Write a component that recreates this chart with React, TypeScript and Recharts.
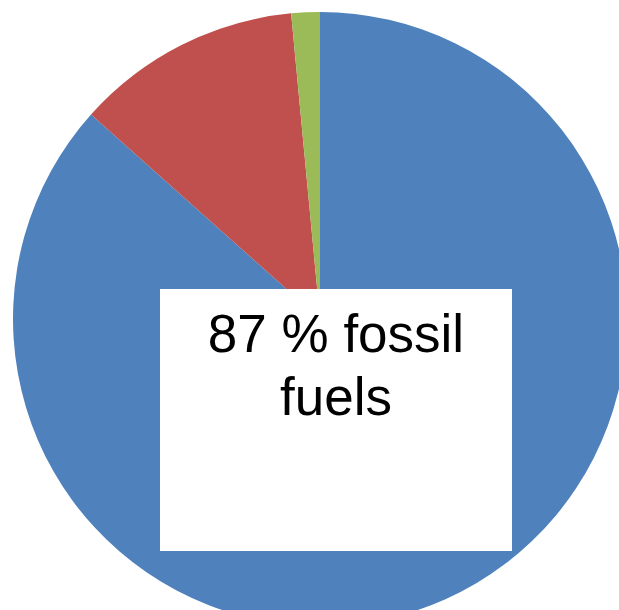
import React from 'react';
import { PieChart, Pie, Cell } from 'recharts';

const sources = ['Fossil fuels', 'Nuclear', 'Renewables'];
const shares = [86.6, 11.9, 1.5];
const sliceColors = ['#4F81BD', '#C0504D', '#9BBB59'];

const data = sources.map((name, i) => ({ name, value: shares[i] }));

const App: React.FC = () => {
  return (
    <div style={{ position: 'absolute', left: 0, top: 0, width: 619, height: 610, overflow: 'hidden', background: '#fff' }}>
      <PieChart width={619} height={610} margin={{ top: 0, right: 0, bottom: 0, left: 0 }}>
        <Pie
          data={data}
          dataKey="value"
          nameKey="name"
          cx={320}
          cy={319}
          outerRadius={307}
          innerRadius={0}
          startAngle={90}
          endAngle={-270}
          stroke="none"
          isAnimationActive={false}
        >
          {data.map((entry, index) => (
            <Cell key={`cell-${index}`} fill={sliceColors[index]} />
          ))}
        </Pie>
      </PieChart>
      <div
        style={{
          position: 'absolute',
          left: 160,
          top: 289,
          width: 352,
          height: 262,
          background: '#ffffff',
          boxSizing: 'border-box',
          paddingTop: 13,
          textAlign: 'center',
          fontFamily: '"Liberation Sans", Arial, sans-serif',
          fontSize: 53,
          lineHeight: '63px',
          color: '#000',
        }}
      >
        87 % fossil
        <br />
        fuels
      </div>
    </div>
  );
};

export default App;
